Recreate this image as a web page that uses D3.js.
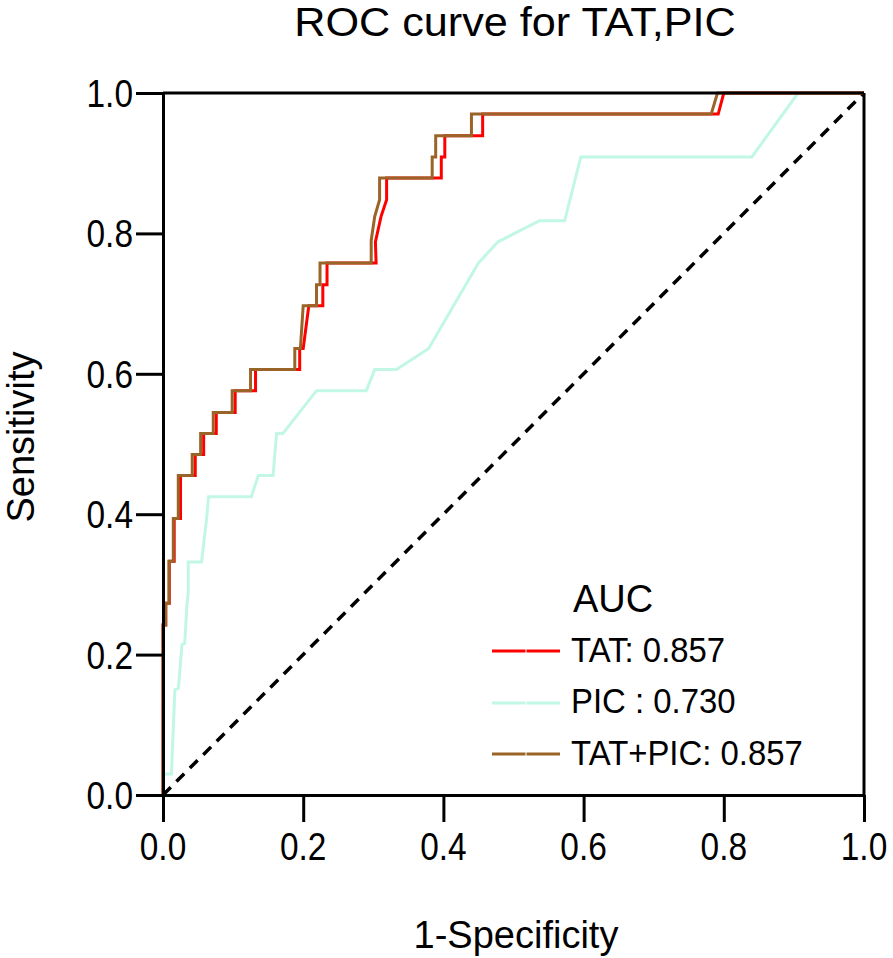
<!DOCTYPE html>
<html><head><meta charset="utf-8">
<script src="https://cdn.jsdelivr.net/npm/d3@7"></script>
<style>body{margin:0;background:#fff}</style>
</head><body><svg id="c" width="893" height="958"></svg>
<script>
const chartTitle = "ROC curve for TAT,PIC";
const xTitle = "1-Specificity";
const yTitle = "Sensitivity";
const tickValues = [0, 0.2, 0.4, 0.6, 0.8, 1.0];
const tickLabels = ["0.0", "0.2", "0.4", "0.6", "0.8", "1.0"];
const legendTitle = "AUC";
const legendLabels = ["TAT: 0.857", "PIC : 0.730", "TAT+PIC: 0.857"];
const seriesColors = ["#ff0000", "#c2f7e6", "#9a6428"];

const fprTAT = [0,0,0.004,0.004,0.009,0.009,0.016,0.016,0.025,0.025,0.046,0.046,0.058,0.058,0.076,0.076,0.103,0.103,0.132,0.132,0.195,0.195,0.200,0.208,0.228,0.228,0.234,0.234,0.304,0.303,0.311,0.319,0.319,0.397,0.397,0.402,0.402,0.456,0.456,0.792,0.800,1];
const tprTAT = [0,0.242,0.242,0.273,0.273,0.333,0.333,0.394,0.394,0.455,0.455,0.485,0.485,0.515,0.515,0.545,0.545,0.576,0.576,0.606,0.606,0.636,0.636,0.697,0.697,0.727,0.727,0.758,0.758,0.788,0.824,0.848,0.879,0.879,0.909,0.909,0.939,0.939,0.970,0.970,1,1];

const fprPIC = [0,0,0.012,0.017,0.022,0.027,0.031,0.034,0.036,0.036,0.055,0.062,0.065,0.126,0.136,0.157,0.162,0.171,0.219,0.290,0.302,0.333,0.379,0.450,0.478,0.537,0.573,0.596,0.840,0.906,1];
const tprPIC = [0,0.030,0.030,0.150,0.152,0.214,0.216,0.268,0.290,0.332,0.332,0.392,0.425,0.425,0.455,0.455,0.515,0.515,0.576,0.576,0.606,0.606,0.636,0.758,0.788,0.818,0.818,0.909,0.909,1,1];

const fprBoth = [0,0,0.0038,0.0038,0.0085,0.0085,0.0147,0.0147,0.0218,0.0218,0.0417,0.0417,0.0537,0.0537,0.0717,0.0717,0.0987,0.0987,0.1249,0.1249,0.188,0.188,0.196,0.200,0.219,0.219,0.224,0.224,0.297,0.297,0.302,0.309,0.309,0.384,0.384,0.389,0.389,0.440,0.440,0.782,0.791,1];
const tprBoth = [0,0.242,0.242,0.273,0.273,0.333,0.333,0.394,0.394,0.455,0.455,0.485,0.485,0.515,0.515,0.545,0.545,0.576,0.576,0.606,0.606,0.636,0.636,0.697,0.697,0.727,0.727,0.758,0.758,0.790,0.824,0.848,0.879,0.879,0.909,0.909,0.939,0.939,0.970,0.970,1,1];

const svg = d3.select("#c");
const font = "'Liberation Sans', Arial, sans-serif";
const L = 163, R = 864, T = 93, B = 795;
const x = d3.scaleLinear().domain([0, 1]).range([L, R]);
const y = d3.scaleLinear().domain([0, 1]).range([B, T]);

function txt(g, px, py, s, size, anchor, sx, rot) {
  return g.append("text")
    .attr("transform", `translate(${px},${py})` + (rot ? ` rotate(${rot})` : "") + ` scale(${sx},1)`)
    .attr("text-anchor", anchor)
    .attr("font-family", font)
    .attr("font-size", size)
    .attr("fill", "#000")
    .text(s);
}

// diagonal reference
svg.append("line")
  .attr("x1", x(0)).attr("y1", y(0)).attr("x2", x(1)).attr("y2", y(1))
  .attr("stroke", "#000").attr("stroke-width", 3.5).attr("stroke-dasharray", "11,8");

// curves
const series = [
  {fpr: fprPIC, tpr: tprPIC, color: seriesColors[1]},
  {fpr: fprTAT, tpr: tprTAT, color: seriesColors[0]},
  {fpr: fprBoth, tpr: tprBoth, color: seriesColors[2]}
];
const line = d3.line().x(d => x(d[0])).y(d => y(d[1]));
series.forEach(s => {
  svg.append("path")
    .datum(s.fpr.map((f, i) => [f, s.tpr[i]]))
    .attr("d", line)
    .attr("fill", "none")
    .attr("stroke", s.color)
    .attr("stroke-width", 3)
    .attr("stroke-linejoin", "miter");
});

// frame top/right
svg.append("line").attr("x1", x(0)).attr("x2", x(1)).attr("y1", y(1)).attr("y2", y(1))
  .attr("stroke", "#000").attr("stroke-width", 3);
svg.append("line").attr("x1", x(1)).attr("x2", x(1)).attr("y1", y(0)).attr("y2", y(1))
  .attr("stroke", "#000").attr("stroke-width", 3);

// axes
const xa = svg.append("g").attr("transform", `translate(0,${B})`)
  .call(d3.axisBottom(x).tickValues(tickValues).tickSize(27).tickSizeOuter(0).tickFormat(""));
const ya = svg.append("g").attr("transform", `translate(${L},0)`)
  .call(d3.axisLeft(y).tickValues(tickValues).tickSize(27).tickSizeOuter(0).tickFormat(""));
[xa, ya].forEach(g => {
  g.select(".domain").attr("stroke", "#000").attr("stroke-width", 3);
  g.selectAll(".tick line").attr("stroke", "#000").attr("stroke-width", 3);
});

tickValues.forEach((v, i) => {
  txt(svg, x(v), 860, tickLabels[i], 38, "middle", 0.88);
  txt(svg, 133, y(v) + 14, tickLabels[i], 38, "end", 0.88);
});

// titles
txt(svg, 515, 36, chartTitle, 40, "middle", 1.08);
txt(svg, 516, 948, xTitle, 38, "middle", 1);
txt(svg, 34, 437, yTitle, 38, "middle", 1, -90);

// legend
txt(svg, 573, 612, legendTitle, 38, "start", 1);
const legY = [651, 703, 754];
const legBase = [662, 713, 765];
legendLabels.forEach((lab, i) => {
  const c = seriesColors[i];
  svg.append("line").attr("x1", 492).attr("x2", 525.5).attr("y1", legY[i]).attr("y2", legY[i])
    .attr("stroke", c).attr("stroke-width", 3);
  svg.append("line").attr("x1", 526.5).attr("x2", 560).attr("y1", legY[i]).attr("y2", legY[i])
    .attr("stroke", c).attr("stroke-width", 3);
  txt(svg, 571, legBase[i], lab, 35, "start", 0.94);
});
</script></body></html>
